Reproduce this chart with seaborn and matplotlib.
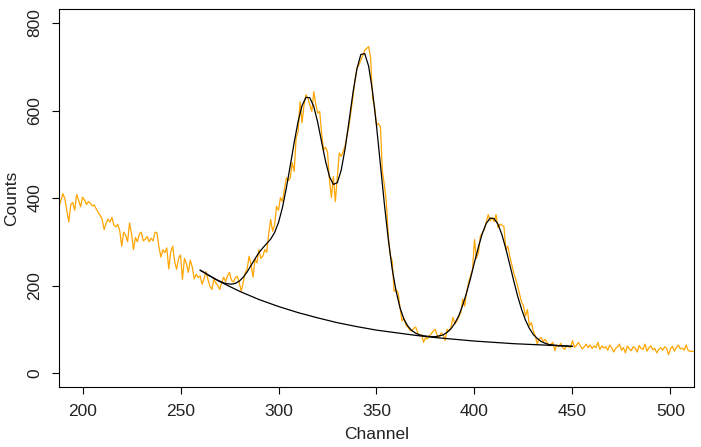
import numpy as np
import pandas as pd
import seaborn as sns
import matplotlib
matplotlib.use("Agg")
import matplotlib.pyplot as plt

# spectrum counts, one per channel 188..512
counts_a = [380, 395, 410, 398, 372, 345, 385, 390, 372, 408,
            395, 380, 402, 396, 385, 392, 388, 382, 384, 375,
            367, 360, 352, 328, 342, 352, 345, 356, 338, 334,
            340, 325, 290, 322, 315, 300, 343, 318, 282, 310,
            300, 318, 322, 302, 306, 312, 300, 308, 302, 322,
            320, 288, 265, 282, 275, 286, 238, 276, 290, 255,
            237, 262, 270, 214, 262, 250, 230, 258, 242, 215,
            226, 218]
counts_b = [222, 203, 215, 232, 214, 198, 191, 214, 206, 200,
            191, 206, 219, 209, 222, 230, 212, 208, 218, 221,
            205, 187, 208, 229, 238, 267, 248, 219, 260, 252,
            282, 262, 267, 282, 276, 318, 351, 324, 338, 381,
            372, 401, 392, 419, 446, 440, 446, 481, 461, 538,
            552, 620, 572, 612, 636, 628, 612, 598, 643, 615,
            594, 598, 548, 510, 516, 505, 442, 401, 449, 392,
            446, 503, 495, 506, 520, 544, 566, 598, 632, 668,
            696, 704, 715, 725, 738, 742, 746, 719, 628, 610,
            567, 570, 563, 461, 430, 392, 315, 270, 256, 187,
            190, 184, 150, 119, 125, 110, 105, 98, 96, 102,
            105, 92, 85, 88, 70, 81, 78, 85, 90, 96,
            100, 86, 81, 92, 88, 74, 100, 96, 104, 127,
            112, 119, 128, 138, 169, 153, 186, 207, 222, 237,
            305, 262, 275, 313, 320, 328, 345, 362, 348, 355,
            346, 362, 332, 340, 338, 335, 282, 290, 267, 248,
            229, 215, 199, 180, 162, 153, 130, 145, 108, 115,
            96, 85, 66, 78, 81, 72, 77, 70, 62, 66,
            70, 51, 64, 60, 68, 58, 54, 62, 60, 58]
counts_c = [74, 59, 63, 70, 62, 55, 60, 66, 58, 64,
            56, 62, 58, 70, 54, 62, 57, 60, 52, 64,
            58, 48, 56, 60, 66, 52, 58, 46, 62, 55,
            51, 60, 57, 48, 63, 56, 54, 66, 50, 58,
            62, 53, 56, 46, 54, 58, 52, 60, 57, 42,
            55, 61, 50, 58, 64, 55, 57, 52, 64, 52,
            49, 50, 49]
counts = counts_a + counts_b + counts_c
channels = list(range(188, 188 + len(counts)))

# fitted total curve (every 2 channels, 260..450)
fit_channels = list(range(260, 452, 2))
fit_counts = [235, 230, 224, 219, 214, 210, 206, 204, 203, 205,
              210, 219, 231, 246, 261, 275, 286, 296, 306, 321,
              344, 378, 423, 474, 527, 575, 611, 630, 629, 609,
              573, 528, 484, 449, 431, 435, 464, 513, 576, 641,
              695, 728, 730, 701, 643, 565, 476, 387, 306, 238,
              187, 149, 123, 107, 97, 91, 87, 85, 84, 83,
              83, 85, 87, 93, 101, 114, 131, 155, 184, 217,
              253, 288, 319, 342, 354, 353, 340, 316, 284, 248,
              211, 176, 146, 121, 102, 88, 79, 72, 68, 65,
              64, 63, 62, 62, 61, 61]

# fitted background
bg_channels = list(range(260, 460, 10))
bg_counts = [235, 209, 187, 168, 152, 138, 126, 115, 106, 98,
             92, 86, 81, 77, 73, 70, 67, 65, 63, 61]

spec = pd.DataFrame({"Channel": channels, "Counts": counts})
fit = pd.DataFrame({"Channel": fit_channels, "Counts": fit_counts})
bg = pd.DataFrame({"Channel": bg_channels, "Counts": bg_counts})

sns.set_style("ticks")
plt.rcParams["font.family"] = ["Liberation Sans", "DejaVu Sans"]

fig = plt.figure(figsize=(7.01, 4.47), dpi=100)
ax = fig.add_axes([59 / 701, 1 - 387 / 447, 635 / 701, 378 / 447])

sns.lineplot(data=spec, x="Channel", y="Counts", color="#FFA500", lw=0.9,
             estimator=None, ax=ax)
sns.lineplot(data=fit, x="Channel", y="Counts", color="black", lw=0.9,
             estimator=None, ax=ax)
sns.lineplot(data=bg, x="Channel", y="Counts", color="black", lw=0.9,
             estimator=None, ax=ax)

ax.set_xlim(188, 512)
ax.set_ylim(-32, 832)
ax.set_xticks(range(200, 501, 50))
ax.set_yticks(range(0, 801, 200))
ax.tick_params(bottom=True, left=True, top=False, right=False,
               direction="out", length=5, width=0.8, color="black",
               labelsize=12.5, labelcolor="#222222", pad=7)
for lab in ax.get_yticklabels():
    lab.set_rotation(90)
    lab.set_va("center")
for s in ax.spines.values():
    s.set_visible(True)
    s.set_color("black")
    s.set_linewidth(0.8)
ax.set_xlabel("Channel", fontsize=12.5, labelpad=6, color="#222222")
ax.set_ylabel("Counts", fontsize=12.5, labelpad=6, color="#222222")

fig.savefig("out.png", dpi=100)
